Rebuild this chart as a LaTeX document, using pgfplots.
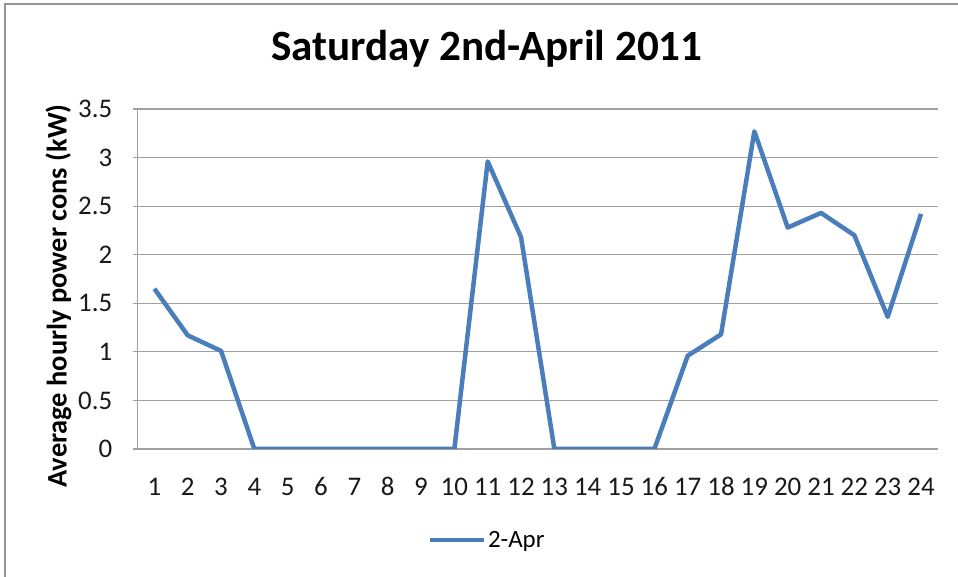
\documentclass[border=0pt]{standalone}
\usepackage{pgfplots}
\pgfplotsset{compat=1.18}
\usepackage{fontspec}
\setmainfont{Carlito}
\definecolor{xlblue}{RGB}{74,126,187}
\definecolor{gridgray}{RGB}{160,160,160}
\definecolor{framegray}{RGB}{150,150,150}
\begin{document}
\begin{tikzpicture}
\path[use as bounding box] (0,0) rectangle (958bp,577bp);
\draw[framegray, line width=2bp] (5bp,0) -- (5bp,573bp) -- (958bp,573bp);
\begin{axis}[
  at={(137.7bp,128bp)}, anchor=south west,
  scale only axis, width=800bp, height=340bp,
  xmin=0.5, xmax=24.5, ymin=0, ymax=3.5,
  xtick={1,...,24}, ytick={0,0.5,...,3.5},
  yticklabels={0,0.5,1,1.5,2,2.5,3,3.5},
  axis x line*=bottom, axis y line*=left,
  axis line style={gridgray, line width=1.2bp},
  every outer x axis line/.append style={-}, every outer y axis line/.append style={-},
  ymajorgrids, major grid style={gridgray, line width=1.2bp},
  x tick style={draw=none},
  y tick style={gridgray, line width=1.2bp}, major tick length=5bp,
  tick align=outside,
  /pgf/number format/assume math mode=true,
  ticklabel style={font=\fontsize{27}{30}\selectfont, text=black!90},
  yticklabel style={xshift=-17bp},
  xticklabel style={anchor=base, yshift=-41bp},
  ylabel={\bfseries Average hourly power cons (kW)},
  ylabel style={font=\fontsize{28.5}{32}\selectfont, at={(axis description cs:-0.099,0.45)}, anchor=center},
  title={\bfseries Saturday 2nd-April 2011},
  title style={font=\fontsize{43.3}{48}\selectfont, at={(axis description cs:0.4366,1.16)}, anchor=center},
  legend style={at={(axis description cs:0.4366,-0.268)}, anchor=center, draw=none, fill=none,
    font=\fontsize{25}{28}\selectfont},
  legend image code/.code={\draw[#1] (0bp,0bp) -- (54bp,0bp);},
]
\addplot[xlblue, line width=4.5bp, line join=round] coordinates {
(1,1.65) (2,1.17) (3,1.01) (4,0) (5,0) (6,0) (7,0) (8,0) (9,0) (10,0)
(11,2.96) (12,2.18) (13,0) (14,0) (15,0) (16,0) (17,0.96) (18,1.18)
(19,3.27) (20,2.28) (21,2.43) (22,2.20) (23,1.36) (24,2.42)
};
\addlegendentry{2-Apr}
\end{axis}
\end{tikzpicture}
\end{document}
